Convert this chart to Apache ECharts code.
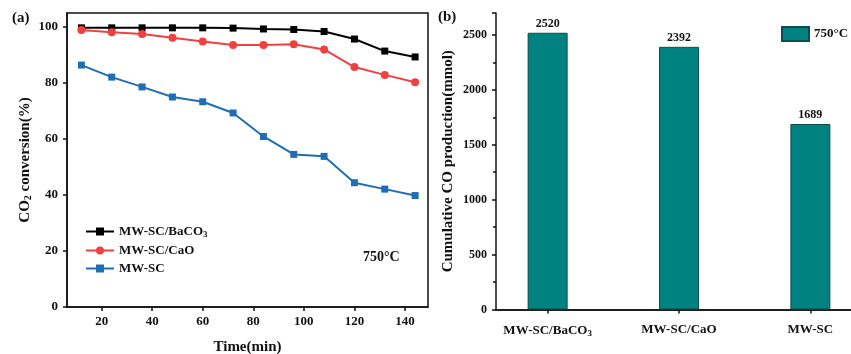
<!DOCTYPE html>
<html><head><meta charset="utf-8">
<script src="https://cdn.jsdelivr.net/npm/echarts@6/dist/echarts.min.js"></script>
<style>html,body{margin:0;padding:0;background:#fff}#c{width:851px;height:354px}</style>
</head><body><div id="c"></div>
<script>
const times = [12, 24, 36, 48, 60, 72, 84, 96, 108, 120, 132, 144];
const baco3 = [99.7, 99.7, 99.7, 99.7, 99.7, 99.6, 99.3, 99.1, 98.4, 95.7, 91.4, 89.3];
const cao = [98.9, 98.1, 97.5, 96.2, 94.8, 93.6, 93.6, 93.8, 92.0, 85.7, 82.9, 80.3];
const mwsc = [86.4, 82.1, 78.6, 75.0, 73.3, 69.3, 60.9, 54.5, 53.8, 44.4, 42.1, 39.8];
const xTicksA = [20, 40, 60, 80, 100, 120, 140];
const yTicksA = [0, 20, 40, 60, 80, 100];
const seriesNames = ['MW-SC/BaCO3', 'MW-SC/CaO', 'MW-SC'];
const catNames = ['MW-SC/BaCO3', 'MW-SC/CaO', 'MW-SC'];
const catPos = [1, 2, 3];
const coProduction = [2520, 2392, 1689];
const barSeriesName = '750°C';

const F = 'Liberation Serif, Times New Roman, serif';
const sub = {sub: {fontSize: 9, verticalAlign: 'bottom', padding: [6, 0, 0, 0], fontFamily: F, fontWeight: 'bold', color: '#111'}};
function subFmt(s) { return s.replace(/CO(\d)/, 'CO{sub|$1}'); }

const chart = echarts.init(document.getElementById('c'), null, {renderer: 'canvas'});
const axisCommon = {
  axisLine: {show: true, onZero: false, lineStyle: {color: '#111', width: 1.5}},
  axisTick: {show: true, inside: false, length: 4, lineStyle: {color: '#111', width: 1.5}},
  splitLine: {show: false},
};
chart.setOption({
  animation: false,
  textStyle: {fontFamily: F},
  grid: [
    {left: 67, top: 13, right: 423, bottom: 47, show: true, borderColor: '#111', borderWidth: 1.5, backgroundColor: 'transparent', outerBoundsMode: 'none', containLabel: false},
    {left: 496, top: 13, right: -11, bottom: 44.5, show: false, outerBoundsMode: 'none', containLabel: false}
  ],
  legend: [
    {
      orient: 'vertical', left: 85, top: 225, padding: 0, itemWidth: 28, itemHeight: 10, itemGap: 5,
      data: seriesNames,
      formatter: n => subFmt(n),
      textStyle: {fontFamily: F, fontWeight: 'bold', fontSize: 13, color: '#111', rich: sub}
    },
    {
      orient: 'horizontal', left: 781, top: 26, padding: 0, itemWidth: 27, itemHeight: 14,
      data: [barSeriesName], icon: 'rect',
      textStyle: {fontFamily: F, fontWeight: 'bold', fontSize: 13, color: '#111'}
    }
  ],
  xAxis: [
    Object.assign({}, axisCommon, {
      gridIndex: 0, type: 'value', min: 6.3, max: 149.1,
      axisTick: Object.assign({}, axisCommon.axisTick, {customValues: xTicksA}),
      axisLabel: {customValues: xTicksA, fontFamily: F, fontWeight: 'bold', fontSize: 13, color: '#111', margin: 8},
      name: 'Time(min)', nameLocation: 'middle', nameGap: 33,
      nameTextStyle: {fontFamily: F, fontWeight: 'bold', fontSize: 15, color: '#111'}
    }),
    Object.assign({}, axisCommon, {
      gridIndex: 1, type: 'value', min: 0.607, max: 3.393,
      axisTick: Object.assign({}, axisCommon.axisTick, {customValues: catPos}),
      axisLabel: {customValues: catPos, formatter: v => subFmt(catNames[Math.round(v) - 1]),
        fontFamily: F, fontWeight: 'bold', fontSize: 13, color: '#111', margin: 14, rich: sub}
    }),
    {
      gridIndex: 1, type: 'value', position: 'top', min: 0.607, max: 3.393,
      axisLine: {show: true, lineStyle: {color: '#111', width: 1.5}},
      axisTick: {show: false}, axisLabel: {show: false}, splitLine: {show: false}
    }
  ],
  yAxis: [
    Object.assign({}, axisCommon, {
      gridIndex: 0, type: 'value', min: 0, max: 105,
      axisTick: Object.assign({}, axisCommon.axisTick, {customValues: yTicksA}),
      axisLabel: {customValues: yTicksA, fontFamily: F, fontWeight: 'bold', fontSize: 13, color: '#111', margin: 9},
      name: 'CO{sub|2} conversion(%)', nameLocation: 'middle', nameGap: 34,
      nameTextStyle: {fontFamily: F, fontWeight: 'bold', fontSize: 15, color: '#111', rich: {sub: {fontSize: 10, fontFamily: F, fontWeight: 'bold', color: '#111', verticalAlign: 'bottom', padding: [6, 0, 0, 0]}}}
    }),
    Object.assign({}, axisCommon, {
      gridIndex: 1, type: 'value', min: 0, max: 2700, interval: 500,
      minorTick: {show: true, splitNumber: 2, length: 3, lineStyle: {color: '#111', width: 1.5}},
      axisLabel: {showMaxLabel: false, formatter: v => String(v), fontFamily: F, fontWeight: 'bold', fontSize: 12, color: '#111', margin: 9},
      name: 'Cumulative CO production(mmol)', nameLocation: 'middle', nameGap: 40,
      nameTextStyle: {fontFamily: F, fontWeight: 'bold', fontSize: 15, color: '#111'}
    })
  ],
  series: [
    {name: seriesNames[0], type: 'line', xAxisIndex: 0, yAxisIndex: 0,
      data: times.map((t, i) => [t, baco3[i]]), symbol: 'rect', symbolSize: 7,
      itemStyle: {color: '#000'}, lineStyle: {color: '#000', width: 2}},
    {name: seriesNames[1], type: 'line', xAxisIndex: 0, yAxisIndex: 0,
      data: times.map((t, i) => [t, cao[i]]), symbol: 'circle', symbolSize: 8,
      itemStyle: {color: '#f04040'}, lineStyle: {color: '#f04040', width: 2}},
    {name: seriesNames[2], type: 'line', xAxisIndex: 0, yAxisIndex: 0,
      data: times.map((t, i) => [t, mwsc[i]]), symbol: 'rect', symbolSize: 7,
      itemStyle: {color: '#1f6db3'}, lineStyle: {color: '#1f6db3', width: 2}},
    {name: barSeriesName, type: 'bar', xAxisIndex: 1, yAxisIndex: 1,
      data: catPos.map((p, i) => [p, coProduction[i]]), barWidth: 40,
      itemStyle: {color: '#008380', borderColor: '#0b4f4c', borderWidth: 1},
      label: {show: true, position: 'top', distance: 3, fontFamily: F, fontWeight: 'bold', fontSize: 12, color: '#111'}}
  ],
  graphic: [
    {type: 'text', left: 12, top: 11, style: {text: '(a)', font: 'bold 15px ' + F, fill: '#111'}},
    {type: 'text', left: 438, top: 10, style: {text: '(b)', font: 'bold 15px ' + F, fill: '#111'}},
    {type: 'text', left: 363, top: 250, style: {text: '750°C', font: 'bold 14px ' + F, fill: '#111'}}
  ]
});
</script></body></html>
